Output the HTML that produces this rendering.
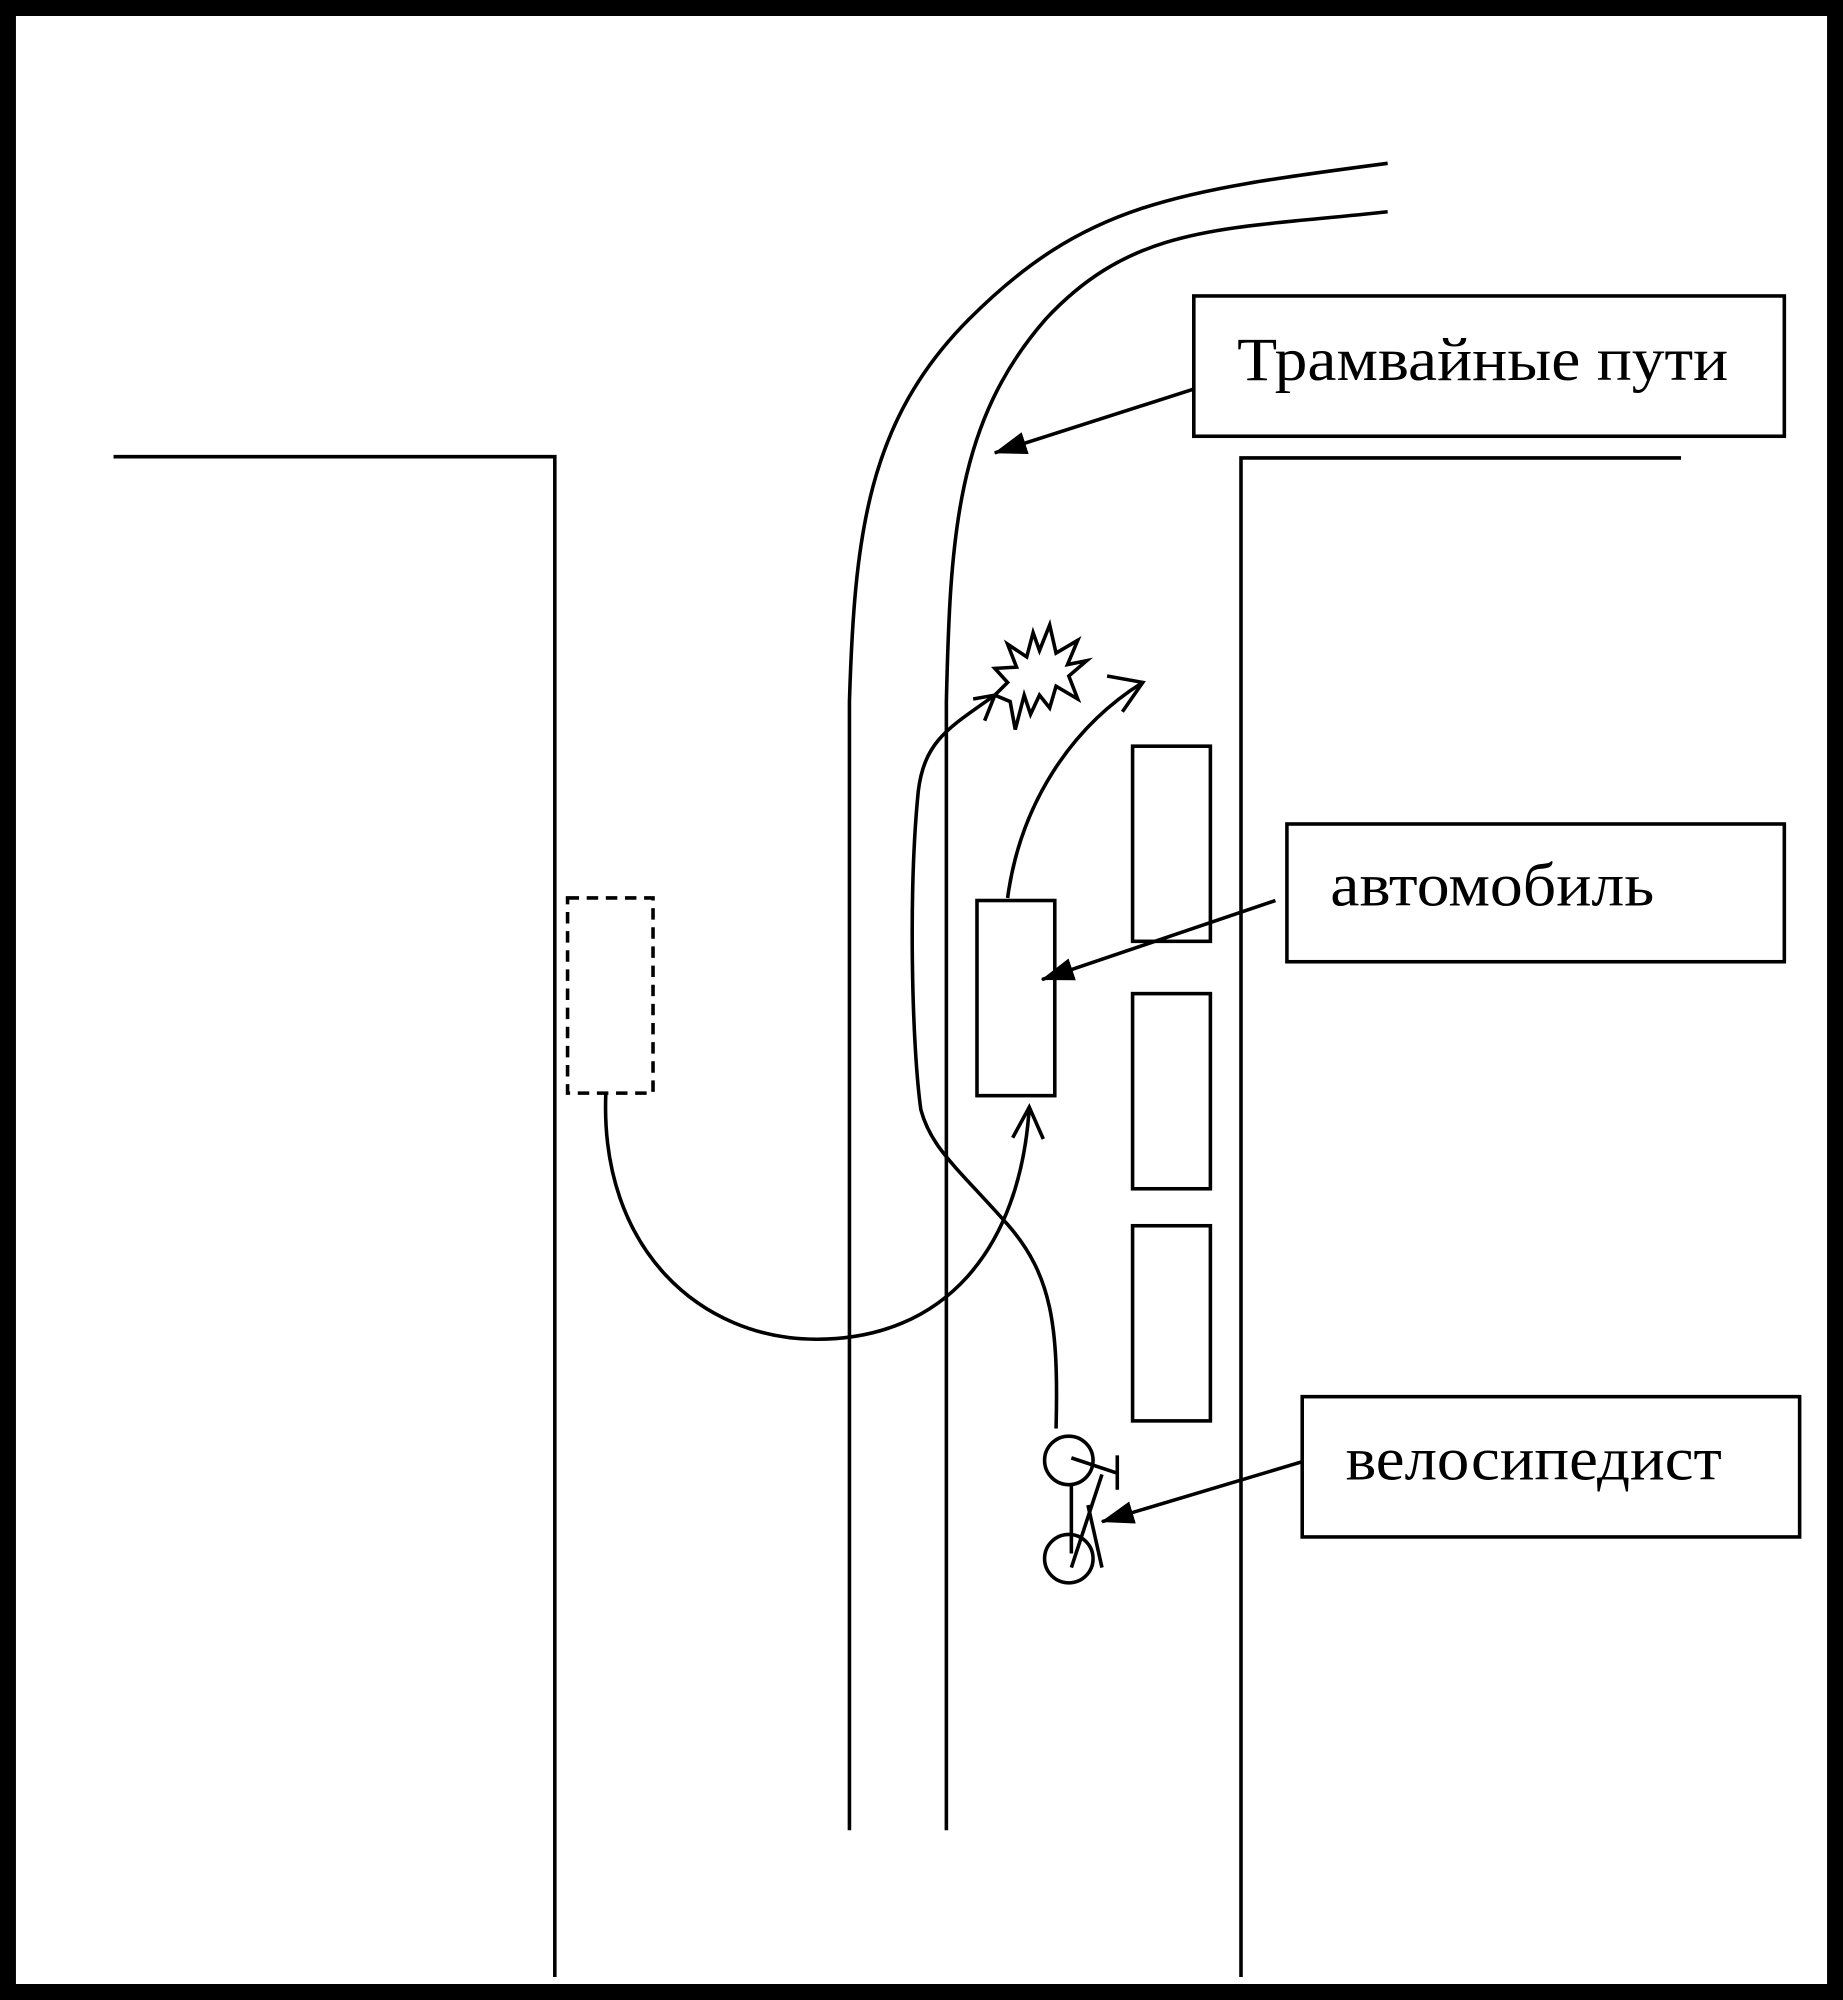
<!DOCTYPE html>
<html><head><meta charset="utf-8"><style>html,body{margin:0;padding:0;background:#fff}svg{display:block}</style></head>
<body>
<svg width="1843" height="2000" viewBox="0 0 1445 1568" xmlns="http://www.w3.org/2000/svg">
<defs>
<marker id="ah" markerWidth="26" markerHeight="18" refX="25" refY="9" orient="auto" markerUnits="userSpaceOnUse" viewBox="0 0 26 18"><path d="M0,0 L26,9 L0,18 Z" fill="#000"/></marker>
</defs>
<rect x="0" y="0" width="1445" height="1568" fill="#fff" stroke="#000" stroke-width="25"/>
<g fill="none" stroke="#000" stroke-width="2.8">
<polyline points="89,358 435,358 435,1550"/>
<polyline points="1318,359 973,359 973,1550"/>
<path d="M666,1435 L666,550 C670,420 680,330 760,250 C850,160 920,150 1088,128"/>
<path d="M742,1435 L742,550 C745,420 750,330 820,250 C890,175 960,180 1088,166"/>
<rect x="888" y="585" width="61" height="153"/>
<rect x="888" y="779" width="61" height="153"/>
<rect x="888" y="961" width="61" height="153"/>
<rect x="766" y="706" width="61" height="153"/>
<rect x="445" y="704" width="67" height="153" stroke-dasharray="9,6"/>
<path d="M475,857 C470,980 550,1050 640,1050 C740,1050 800,980 807,868"/>
<polyline points="794,892 807,868 818,893"/>
<path d="M790,704 C800,630 840,570 896,535"/>
<polyline points="868,530 896,535 880,558"/>
<path d="M828,1120 C830,1040 825,1000 790,960 C750,915 730,900 722,870 C715,820 712,700 720,620 C725,580 745,570 780,545"/>
<polyline points="763,548 780,545 772,565"/>
<polygon points="823,490 828,512 845,502 837,521 852,518 838,530 845,548 828,538 823,555 815,545 808,560 803,545 796,572 792,550 780,545 790,535 780,524 797,523 790,505 805,515 810,496 815,510" />
<circle cx="838" cy="1145" r="19"/>
<circle cx="838" cy="1222" r="19"/>
<line x1="840" y1="1143" x2="876" y2="1155"/>
<line x1="876" y1="1141" x2="876" y2="1168"/>
<line x1="840" y1="1164" x2="840" y2="1218"/>
<line x1="864" y1="1156" x2="840" y2="1229"/>
<line x1="853" y1="1180" x2="864" y2="1229"/>
<rect x="936" y="232" width="463" height="110"/>
<rect x="1009" y="646" width="390" height="108"/>
<rect x="1021" y="1095" width="390" height="110"/>
<line x1="936" y1="305" x2="780" y2="355" marker-end="url(#ah)"/>
<line x1="1000" y1="706" x2="817" y2="768" marker-end="url(#ah)"/>
<line x1="1021" y1="1146" x2="864" y2="1193" marker-end="url(#ah)"/>
</g>
<g font-family="'Liberation Serif','DejaVu Serif',serif" font-size="48" fill="#000">
<text x="970" y="298" textLength="385" lengthAdjust="spacingAndGlyphs">Трамвайные пути</text>
<text x="1043" y="710" textLength="254" lengthAdjust="spacingAndGlyphs">автомобиль</text>
<text x="1055" y="1160" textLength="295" lengthAdjust="spacingAndGlyphs">велосипедист</text>
</g>
</svg>
</body></html>
